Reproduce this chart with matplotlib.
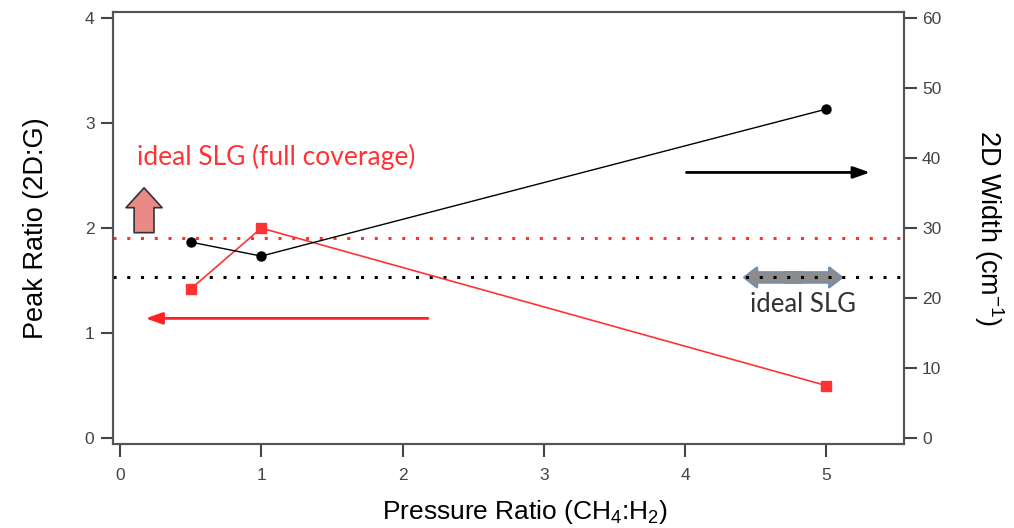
import matplotlib
matplotlib.use('Agg')
import matplotlib.pyplot as plt
from matplotlib.patches import FancyArrowPatch

plt.rcParams['font.family'] = ['Liberation Sans', 'DejaVu Sans']
plt.rcParams['mathtext.default'] = 'regular'

# data
pressure = [0.5, 1, 5]
peak_ratio = [1.42, 2.0, 0.5]      # left axis, red squares
width_2d = [28, 26, 47]            # right axis, black circles
ideal_full = 1.91                  # red dotted line (peak ratio)
ideal_slg = 1.53                   # black dotted line (peak ratio)

axis_grey = '#555555'
tick_grey = '#444444'

fig = plt.figure(figsize=(10.14, 5.28), dpi=100)
ax = fig.add_axes([0.111, 0.159, 0.7805, 0.818])
ax2 = ax.twinx()

ax.set_xlim(-0.053, 5.55)
ax.set_ylim(-0.057, 4.057)
ax2.set_ylim(-0.057 * 15, 4.057 * 15)

for a in (ax, ax2):
    for s in a.spines.values():
        s.set_color(axis_grey)
        s.set_linewidth(1.5)
    a.tick_params(colors=tick_grey, labelsize=12.5, length=9, width=1.5, pad=4)
ax.tick_params(axis='x', pad=8)

ax.set_xticks([0, 1, 2, 3, 4, 5])
ax.set_yticks([0, 1, 2, 3, 4])
ax2.set_yticks([0, 10, 20, 30, 40, 50, 60])

# dotted reference lines
ax.axhline(ideal_full, color='#ff3333', ls=(0, (1, 3.5)), lw=2.2, zorder=5)
ax.axhline(ideal_slg, color='black', ls=(0, (1, 3.5)), lw=2.2, zorder=5)

# series
ax.plot(pressure, peak_ratio, color='#ff3333', lw=1.2, marker='s', ms=7.5, zorder=6)
ax2.plot(pressure, width_2d, color='black', lw=1.0, marker='o', ms=6.5, zorder=6)

# block arrow up (pink)
up = FancyArrowPatch((0.17, 1.93), (0.17, 2.41),
                     arrowstyle='simple,head_length=0.55,head_width=1.0,tail_width=0.55',
                     mutation_scale=26, facecolor='#e98a87', edgecolor='#333333', lw=1.2, zorder=4)
ax.add_patch(up)

# black arrow pointing right axis
ax.annotate('', xy=(5.31, 2.53), xytext=(4.01, 2.53),
            arrowprops=dict(arrowstyle='-|>,head_length=1.0,head_width=0.35', color='black', lw=2,
                            shrinkA=0, shrinkB=0))
# red arrow pointing left axis
ax.annotate('', xy=(0.18, 1.14), xytext=(2.18, 1.14),
            arrowprops=dict(arrowstyle='-|>,head_length=1.0,head_width=0.35', color='#ff2222', lw=2,
                            shrinkA=0, shrinkB=0))

# grey double arrow
mid = (4.40 + 5.13) / 2
style = 'simple,head_length=0.65,head_width=1.0,tail_width=0.52'
halves = [(mid + 0.08, 4.40), (mid - 0.08, 5.13)]
for x0, x1 in halves:
    ax.add_patch(FancyArrowPatch((x0, ideal_slg), (x1, ideal_slg), arrowstyle=style,
                                 mutation_scale=14, facecolor='#8c8c8c', edgecolor='#6a8fc0',
                                 lw=1.8, zorder=3))
for x0, x1 in halves:
    ax.add_patch(FancyArrowPatch((x0, ideal_slg), (x1, ideal_slg), arrowstyle=style,
                                 mutation_scale=14, facecolor='#8c8c8c', edgecolor='none',
                                 lw=0, zorder=3.5))

ax.text(0.12, 2.68, 'ideal SLG (full coverage)', color='#ff3333', fontsize=19,
        family=['Lato', 'DejaVu Sans'], va='center', ha='left')
ax.text(4.46, 1.27, 'ideal SLG', color='#333333', fontsize=18.5,
        family=['Lato', 'DejaVu Sans'], va='center', ha='left')

ax.set_xlabel('Pressure Ratio (CH$_4$:H$_2$)', fontsize=19, labelpad=12)
ax.xaxis.set_label_coords(0.521, -0.125)
ax.set_ylabel('Peak Ratio (2D:G)', fontsize=19.5, labelpad=26)
ax2.set_ylabel('2D Width (cm$^{-1}$)', fontsize=19.5, rotation=270, labelpad=46)

fig.savefig('out.png', dpi=100)
